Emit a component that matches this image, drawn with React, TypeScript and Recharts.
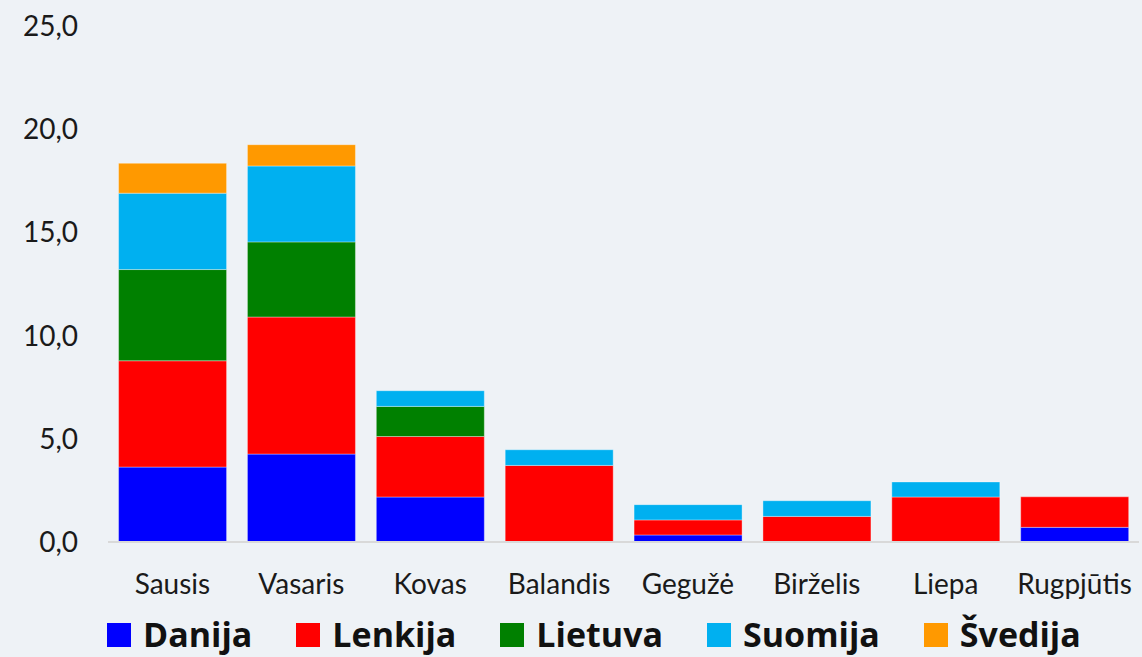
import { Bar, BarChart, Legend, XAxis, YAxis } from 'recharts'

const MONTHS = ['Sausis', 'Vasaris', 'Kovas', 'Balandis', 'Gegužė', 'Birželis', 'Liepa', 'Rugpjūtis']
const DANIJA = [3.63, 4.26, 2.18, 0, 0.34, 0, 0, 0.71]
const LENKIJA = [5.15, 6.64, 2.93, 3.71, 0.73, 1.24, 2.18, 1.48]
const LIETUVA = [4.42, 3.64, 1.46, 0, 0, 0, 0, 0]
const SUOMIJA = [3.7, 3.68, 0.76, 0.76, 0.74, 0.76, 0.73, 0]
const SVEDIJA = [1.45, 1.03, 0, 0, 0, 0, 0, 0]
const Y_TICKS = [0, 5, 10, 15, 20, 25]

const SERIES = [
  { key: 'Danija', values: DANIJA, color: '#0000ff' },
  { key: 'Lenkija', values: LENKIJA, color: '#ff0000' },
  { key: 'Lietuva', values: LIETUVA, color: '#008000' },
  { key: 'Suomija', values: SUOMIJA, color: '#00b0f0' },
  { key: 'Švedija', values: SVEDIJA, color: '#ff9900' },
]

const data = MONTHS.map((month, i) => {
  const row: Record<string, string | number> = { month }
  SERIES.forEach((s) => {
    row[s.key] = s.values[i]
  })
  return row
})

const FONT = 'Lato, "Open Sans", sans-serif'
const BG = '#eef2f6'

function LegendRow() {
  return (
    <div
      style={{
        display: 'flex',
        alignItems: 'baseline',
        paddingLeft: 107,
        paddingTop: 20,
        height: 40,
        fontFamily: '"Open Sans", sans-serif',
      }}
    >
      {SERIES.map((s) => (
        <div key={s.key} style={{ display: 'flex', alignItems: 'baseline', marginRight: 44 }}>
          <span style={{ width: 24, height: 24, background: s.color, marginRight: 12, display: 'inline-block' }} />
          <span style={{ fontSize: 34, fontWeight: 700, color: '#111', lineHeight: '34px' }}>{s.key}</span>
        </div>
      ))}
    </div>
  )
}

export default function App() {
  return (
    <div style={{ position: 'absolute', left: 0, top: 0, width: 1142, height: 657, background: BG, overflow: 'hidden' }}>
      <BarChart
        width={1142}
        height={657}
        data={data}
        margin={{ top: 26, right: 3, left: 0, bottom: 0 }}
        barCategoryGap="8.2%"
      >
        <XAxis
          dataKey="month"
          tick={{ fontSize: 28, fill: '#1a1a1a', fontFamily: FONT }}
          tickLine={false}
          tickSize={0}
          tickMargin={32}
          axisLine={{ stroke: '#d9d9d9', strokeWidth: 2 }}
          height={55}
          interval={0}
        />
        <YAxis
          domain={[0, 25]}
          ticks={Y_TICKS}
          tickFormatter={(v: number) => v.toFixed(1).replace('.', ',')}
          tick={{ fontSize: 28, fill: '#1a1a1a', fontFamily: FONT }}
          tickLine={false}
          tickSize={0}
          tickMargin={30}
          axisLine={false}
          width={108}
        />
        <Legend
          verticalAlign="bottom"
          height={60}
          content={() => <LegendRow />}
          wrapperStyle={{ left: 0, bottom: 0, width: 1142, height: 60 }}
        />
        {SERIES.map((s) => (
          <Bar
            key={s.key}
            dataKey={s.key}
            stackId="a"
            fill={s.color}
            stroke="#ffffff"
            strokeOpacity={0.35}
            strokeWidth={1}
            isAnimationActive={false}
          />
        ))}
      </BarChart>
    </div>
  )
}
